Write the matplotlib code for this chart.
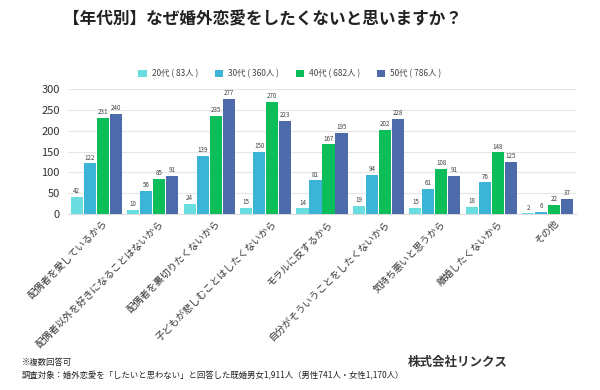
import numpy as np
import matplotlib.pyplot as plt

plt.rcParams['font.family'] = ['Noto Sans CJK JP', 'DejaVu Sans']

categories = ['配偶者を愛しているから', '配偶者以外を好きになることはないから',
              '配偶者を裏切りたくないから', '子どもが悲しむことはしたくないから',
              'モラルに反するから', '自分がそういうことをしたくないから',
              '気持ち悪いと思うから', '離婚したくないから', 'その他']
series_names = ['20代 ( 83人 )', '30代 ( 360人 )', '40代 ( 682人 )', '50代 ( 786人 )']
v20 = [42, 10, 24, 15, 14, 19, 15, 18, 2]
v30 = [122, 56, 139, 150, 81, 94, 61, 76, 6]
v40 = [231, 85, 235, 270, 167, 202, 108, 148, 22]
v50 = [240, 91, 277, 223, 195, 228, 91, 125, 37]
colors = ['#6ADDE0', '#3BB4D8', '#0BBE5A', '#4D6BAA']

fig = plt.figure(figsize=(6, 3.9), dpi=100)
ax = fig.add_axes([68 / 600, 1 - 214 / 390, 508 / 600, 125 / 390])

x = np.arange(len(categories))
step = 0.23
width = 0.215
for i, (vals, name, c) in enumerate(zip([v20, v30, v40, v50], series_names, colors)):
    pos = x + (i - 1.5) * step
    bars = ax.bar(pos, vals, width, color=c, label=name, zorder=3)
    for b, v in zip(bars, vals):
        ax.text(b.get_x() + b.get_width() / 2, v + 4, str(v), ha='center', va='bottom',
                fontsize=4.5, color='#444444')

ax.set_xlim(-0.5, len(categories) - 0.5)
ax.set_ylim(0, 300)
ax.set_yticks(range(0, 301, 50))
ax.tick_params(axis='y', length=0, labelsize=8, colors='#333333', pad=6)
ax.tick_params(axis='x', length=0, pad=3)
ax.yaxis.grid(True, color='#e6e6e6', linewidth=0.8, zorder=0)
for s in ['top', 'right', 'left']:
    ax.spines[s].set_visible(False)
ax.spines['bottom'].set_color('#dddddd')
ax.set_xticks(x + 0.1)
ax.set_xticklabels(categories, rotation=45, ha='right', rotation_mode='anchor',
                   fontsize=7, color='#333333')

fig.suptitle('【年代別】なぜ婚外恋愛をしたくないと思いますか？', x=0.437, y=1 - 19 / 390,
             fontsize=12, fontweight='bold', color='#222222', va='center')
fig.legend(loc='center', bbox_to_anchor=(0.483, 1 - 74 / 390), ncol=4, frameon=False,
           fontsize=6, handlelength=1.0, handleheight=1.0, columnspacing=2.0,
           handletextpad=0.6, labelcolor='#444444')

fig.text(22 / 600, 1 - 363 / 390, '※複数回答可', fontsize=6, color='#222222', va='center')
fig.text(22 / 600, 1 - 376 / 390,
         '調査対象：婚外恋愛を「したいと思わない」と回答した既婚男女1,911人（男性741人・女性1,170人）',
         fontsize=6, color='#222222', va='center')
fig.text(508 / 600, 1 - 362 / 390, '株式会社リンクス', fontsize=9, fontweight='bold',
         color='#333333', ha='right', va='center')

fig.savefig('out.png', dpi=100, facecolor='white')
